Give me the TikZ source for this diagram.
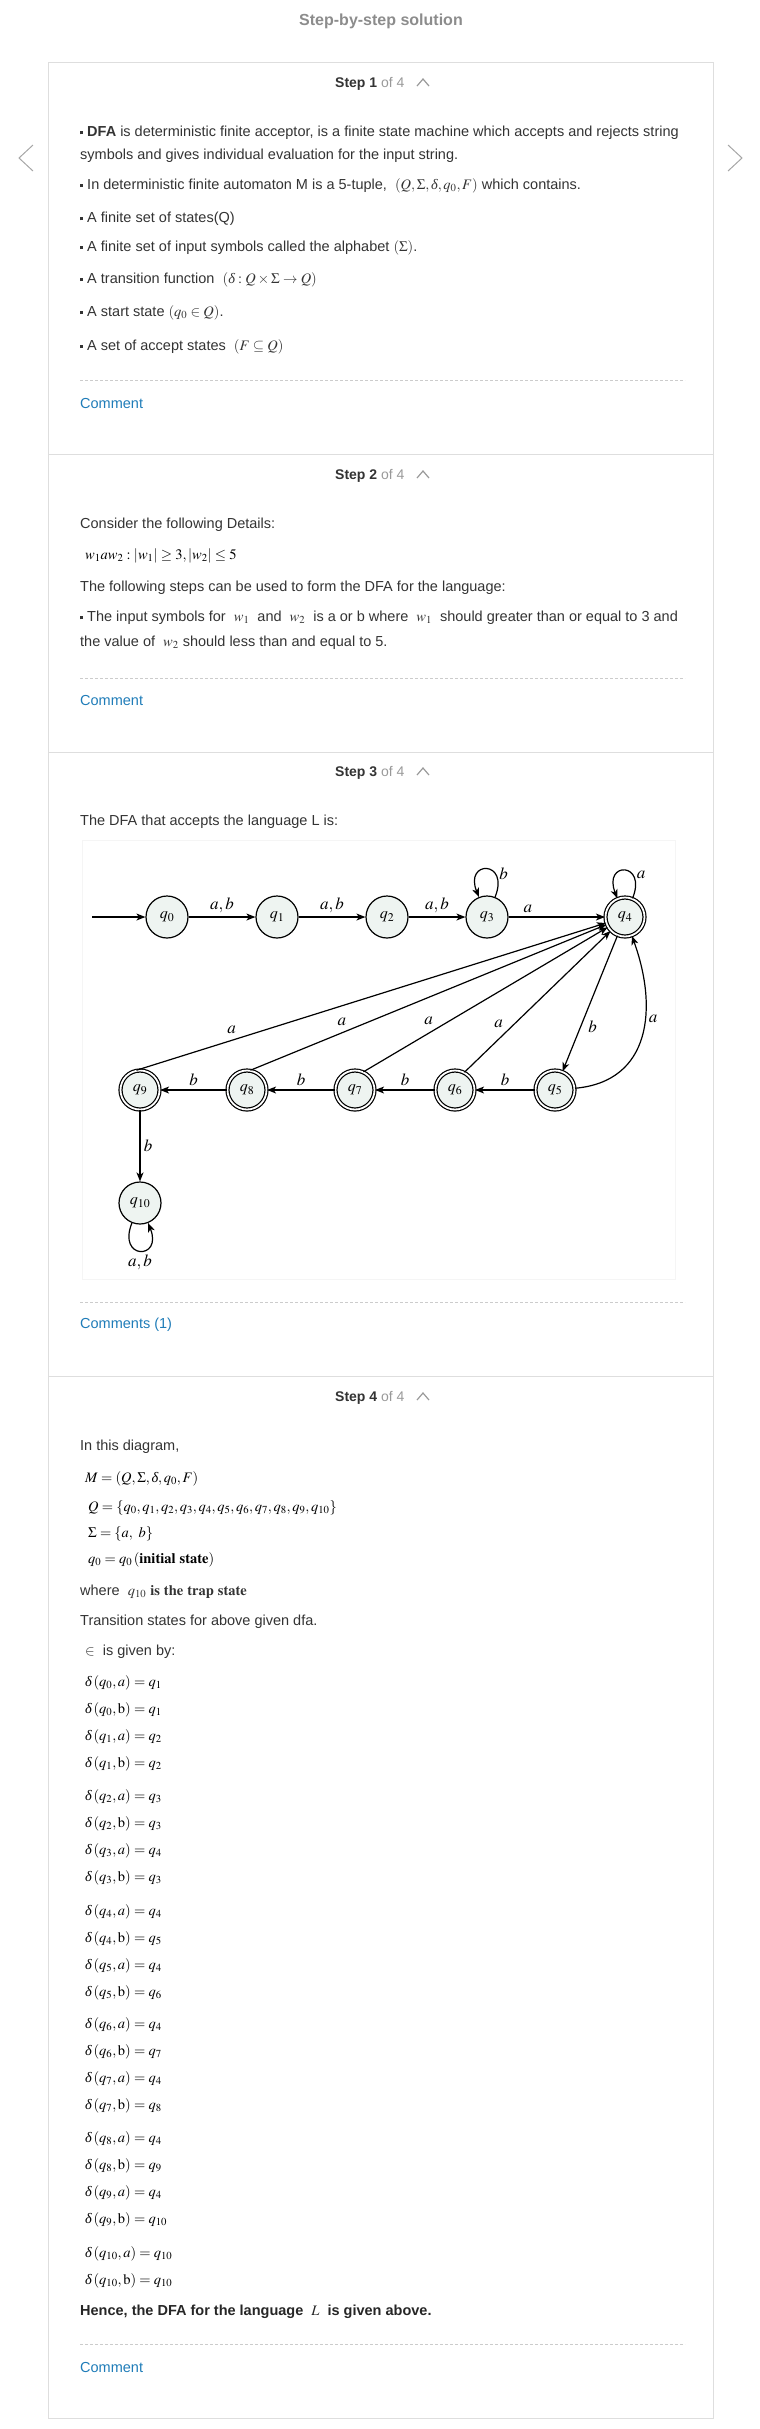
\documentclass[tikz,border=0pt]{standalone}
\usepackage{mathptmx}
\usepackage[no-math]{fontspec}
\setmainfont{Liberation Sans}
\newfontfamily\serifface{Liberation Serif}
\usepackage{amsmath}
\usetikzlibrary{arrows.meta,positioning}

\definecolor{bodytext}{HTML}{333333}
\definecolor{headgrey}{HTML}{8C8C8C}
\definecolor{boxline}{HTML}{DEDEDE}
\definecolor{linkblue}{HTML}{1F7CB8}
\definecolor{statefill}{HTML}{EEF4F1}

\newcommand{\sqbullet}{\rule[2.5pt]{3pt}{3pt}\ }
\newcommand{\tdelta}{\mbox{\serifface\itshape δ}}
\newcommand{\deltaline}[3]{$\tdelta\left(q_{#1},#2\right)=q_{#3}$}

\begin{document}
\begin{tikzpicture}[x=1pt,y=1pt,
    para/.style={anchor=west,align=left,text=bodytext,inner sep=0pt,
      font=\fontsize{14.5}{23}\selectfont},
    eqline/.style={anchor=west,align=left,text=black,inner sep=0pt,
      font=\fontsize{14.5}{27}\selectfont},
    stephead/.style={anchor=west,inner sep=0pt,text=bodytext,
      font=\fontsize{14}{16}\selectfont},
    comment link/.style={anchor=west,inner sep=0pt,text=linkblue,
      font=\fontsize{14.5}{16}\selectfont},
    rule line/.style={draw=black!20,line width=0.8pt,dash pattern=on 3pt off 2pt},
    caret/.style={draw=black!40,line width=1.2pt},
    box line/.style={draw=boxline,line width=1pt}]
  \useasboundingbox (0,0) rectangle (760,-2429);

  % title and the two side arrows
  \node[text=headgrey,font=\bfseries\fontsize{16}{18}\selectfont] (title) at (381,-21) {Step-by-step solution};
  \draw[draw=black!35,line width=1pt] (33,-145) -- (19,-158) -- (33,-171);
  \draw[draw=black!35,line width=1pt] (728,-145) -- (742,-158) -- (728,-171);

  % card and step dividers
  \draw[box line] (48,-62) rectangle (713,-2418);
  \draw[box line] (48,-454) -- (713,-454);
  \draw[box line] (48,-752) -- (713,-752);
  \draw[box line] (48,-1376) -- (713,-1376);

  % step 1
  \node[stephead] (head1) at (335,-84) {\textbf{Step 1} \textcolor{black!40}{of 4}};
  \draw[caret] (417,-86) -- ++(6,7) -- ++(6,-7);
  \node[para] (dfadef) at (80,-144.5) {\sqbullet\textbf{DFA} is deterministic finite acceptor, is a finite state machine which accepts and rejects string\\symbols and gives individual evaluation for the input string.};
  \node[para] (tuple) at (80,-186) {\sqbullet In deterministic finite automaton M is a 5-tuple, \ $\left(Q,\Sigma,\tdelta,q_0,F\right)$ which contains.};
  \node[para] (states) at (80,-219) {\sqbullet A finite set of states(Q)};
  \node[para] (alphabet) at (80,-248) {\sqbullet A finite set of input symbols called the alphabet $(\Sigma)$.};
  \node[para] (transfn) at (80,-280) {\sqbullet A transition function \ $\left(\tdelta:Q\times\Sigma\rightarrow Q\right)$};
  \node[para] (startst) at (80,-313) {\sqbullet A start state $\left(q_0\in Q\right)$.};
  \node[para] (acceptst) at (80,-347) {\sqbullet A set of accept states \ $(F\subseteq Q)$};
  \draw[rule line] (80,-380) -- (685,-380);
  \node[comment link] (comment1) at (80,-403) {Comment};

  % step 2
  \node[stephead] (head2) at (335,-476) {\textbf{Step 2} \textcolor{black!40}{of 4}};
  \draw[caret] (417,-478) -- ++(6,7) -- ++(6,-7);
  \node[para] (consider) at (80,-525) {Consider the following Details:};
  \node[eqline] (lang) at (85,-556) {$w_1aw_2:\left|w_1\right|\ge 3,\left|w_2\right|\le 5$};
  \node[para] (steps) at (80,-588) {The following steps can be used to form the DFA for the language:};
  \node[para,font=\fontsize{14.5}{25}\selectfont] (symbols) at (80,-630.5) {\sqbullet The input symbols for \ $w_1$ \ and \ $w_2$ \ is a or b where \ $w_1$ \ should greater than or equal to 3 and\\the value of \ $w_2$ should less than and equal to 5.};
  \draw[rule line] (80,-678) -- (685,-678);
  \node[comment link] (comment2) at (80,-700) {Comment};

  % step 3
  \node[stephead] (head3) at (335,-773) {\textbf{Step 3} \textcolor{black!40}{of 4}};
  \draw[caret] (417,-775) -- ++(6,7) -- ++(6,-7);
  \node[para] (dfaintro) at (80,-822) {The DFA that accepts the language L is:};
  \draw[draw=black!4,line width=0.8pt] (82,-840) rectangle (675,-1279);

  \begin{scope}[->,>={Stealth[length=9pt,width=7pt,inset=2.5pt]},auto,line width=1.2pt,
      node distance=110pt,
      state node/.style={circle,draw,fill=statefill,minimum size=42pt,inner sep=0pt,
        font=\fontsize{16}{16}\selectfont},
      final node/.style={state node,double,double distance=1.8pt,minimum size=39pt}]
    \node[state node] (q0) at (167,-917) {$q_0$};
    \node[state node] (q1) [right of=q0] {$q_1$};
    \node[state node] (q2) [right of=q1] {$q_2$};
    \node[state node] (q3) [right of=q2,node distance=100pt] {$q_3$};
    \node[final node] (q4) [right of=q3,node distance=138pt] {$q_4$};
    \node[final node] (q9) at (140,-1090) {$q_9$};
    \node[final node] (q8) [right of=q9,node distance=107pt] {$q_8$};
    \node[final node] (q7) [right of=q8,node distance=108pt] {$q_7$};
    \node[final node] (q6) [right of=q7,node distance=100pt] {$q_6$};
    \node[final node] (q5) [right of=q6,node distance=100pt] {$q_5$};
    \node[state node] (q10) [below of=q9,node distance=113pt] {$q_{10}$};
    \coordinate (start) at (92,-917);

    \path[every node/.style={font=\fontsize{17}{17}\selectfont}]
    (start) edge (q0)
    (q0) edge node {$a,b$} (q1)
    (q1) edge node {$a,b$} (q2)
    (q2) edge node {$a,b$} (q3)
    (q3) edge node [pos=0.2] {$a$} (q4)
    (q3) edge [out=68,in=112,min distance=40pt] node [right,pos=0.3] {$b$} (q3)
    (q4) edge [out=68,in=112,min distance=40pt] node [right,pos=0.3] {$a$} (q4)
    (q4) edge node [pos=0.6] {$b$} (q5)
    (q5) edge [out=5,in=-70,looseness=1.2] node [right,pos=0.6] {$a$} (q4)
    (q5) edge node [above] {$b$} (q6)
    (q6) edge node [above] {$b$} (q7)
    (q7) edge node [above] {$b$} (q8)
    (q8) edge node [above] {$b$} (q9)
    (q9.100) edge node [pos=0.22] {$a$} (q4)
    (q8.80) edge node [pos=0.28] {$a$} (q4)
    (q7.65) edge node [pos=0.3] {$a$} (q4)
    (q6.62) edge node [pos=0.29] {$a$} (q4)
    (q9) edge node {$b$} (q10)
    (q10) edge [out=-112,in=-68,min distance=40pt] node [below] {$a,b$} (q10)
    ;
  \end{scope}
  \draw[rule line] (80,-1302) -- (685,-1302);
  \node[comment link] (comment3) at (80,-1325) {Comments (1)};

  % step 4
  \node[stephead] (head4) at (335,-1398) {\textbf{Step 4} \textcolor{black!40}{of 4}};
  \draw[caret] (417,-1400) -- ++(6,7) -- ++(6,-7);
  \node[para] (indiagram) at (80,-1447) {In this diagram,};
  \node[eqline] (mtuple) at (85,-1479) {$M=\left(Q,\Sigma,\tdelta,q_0,F\right)$};
  \node[eqline] (qset) at (88,-1508) {$Q=\left\{q_0,q_1,q_2,q_3,q_4,q_5,q_6,q_7,q_8,q_9,q_{10}\right\}$};
  \node[eqline] (sigmaset) at (88,-1534) {$\Sigma=\{a,\ b\}$};
  \node[eqline] (initial) at (88,-1560) {$q_0=q_0\left(\mathbf{initial\ state}\right)$};
  \node[para] (trap) at (80,-1592) {where \ $q_{10}$ $\mathbf{is\ the\ trap\ state}$};
  \node[para] (transintro) at (80,-1622) {Transition states for above given dfa.};
  \node[para] (givenby) at (85,-1652) {$\in$ \ is given by:};
  \node[eqline] (delta01) at (85,-1723.5) {\deltaline{0}{a}{1}\\\deltaline{0}{\mathrm{b}}{1}\\\deltaline{1}{a}{2}\\\deltaline{1}{\mathrm{b}}{2}};
  \node[eqline] (delta23) at (85,-1837.5) {\deltaline{2}{a}{3}\\\deltaline{2}{\mathrm{b}}{3}\\\deltaline{3}{a}{4}\\\deltaline{3}{\mathrm{b}}{3}};
  \node[eqline] (delta45) at (85,-1952) {\deltaline{4}{a}{4}\\\deltaline{4}{\mathrm{b}}{5}\\\deltaline{5}{a}{4}\\\deltaline{5}{\mathrm{b}}{6}};
  \node[eqline] (delta67) at (85,-2065.5) {\deltaline{6}{a}{4}\\\deltaline{6}{\mathrm{b}}{7}\\\deltaline{7}{a}{4}\\\deltaline{7}{\mathrm{b}}{8}};
  \node[eqline] (delta89) at (85,-2179.5) {\deltaline{8}{a}{4}\\\deltaline{8}{\mathrm{b}}{9}\\\deltaline{9}{a}{4}\\\deltaline{9}{\mathrm{b}}{10}};
  \node[eqline] (delta10) at (85,-2267) {\deltaline{10}{a}{10}\\\deltaline{10}{\mathrm{b}}{10}};
  \node[para,text=black!85] (hence) at (80,-2312) {\textbf{Hence, the DFA for the language \ $L$ \ is given above.}};
  \draw[rule line] (80,-2344) -- (685,-2344);
  \node[comment link] (comment4) at (80,-2367) {Comment};
\end{tikzpicture}
\end{document}
